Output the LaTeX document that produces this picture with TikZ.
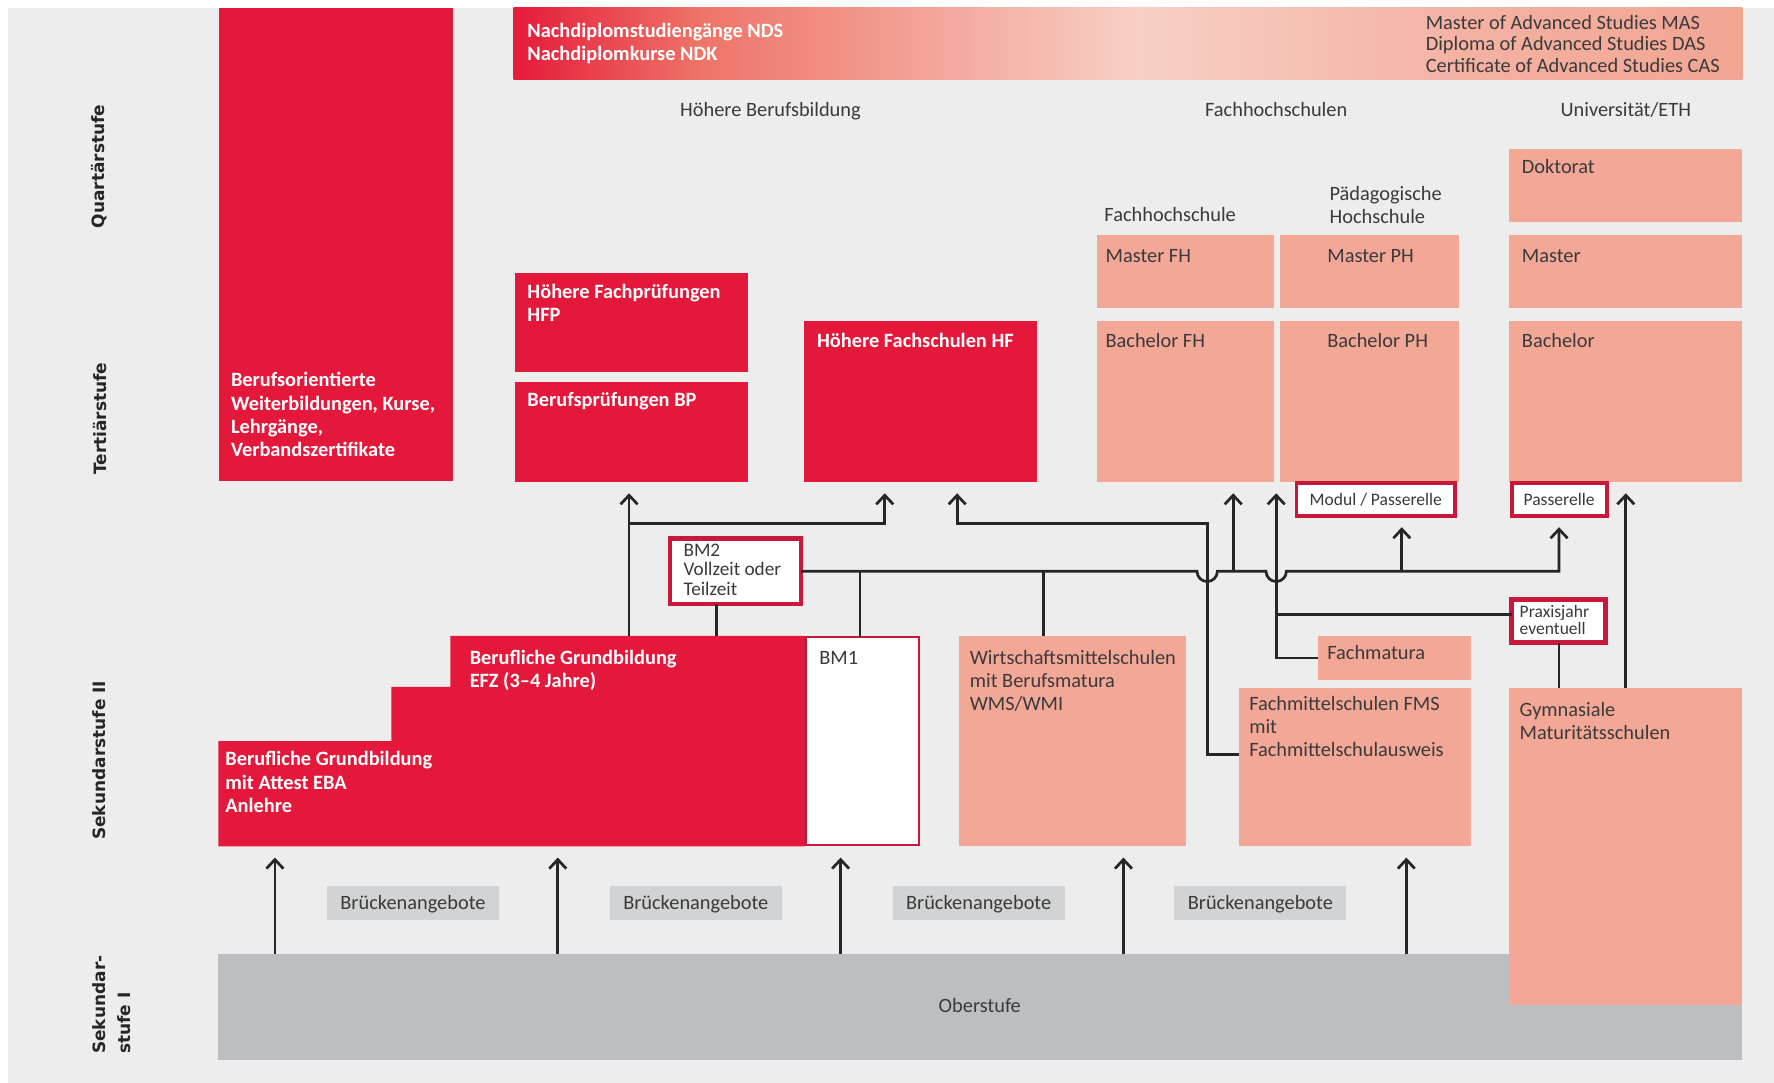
\documentclass[tikz,border=0pt]{standalone}
\usepackage{fontspec}
\setmainfont{Carlito}
\newfontfamily\stufefont{DejaVu Sans}
\usetikzlibrary{arrows.meta,fit}

\definecolor{bsred}{HTML}{E4183A}
\definecolor{bsframe}{HTML}{C8193C}
\definecolor{bssalmon}{HTML}{F3A796}
\definecolor{bsbg}{HTML}{EDEDED}
\definecolor{bsgray}{HTML}{BDBEC1}
\definecolor{bsbridge}{HTML}{D2D3D4}
\definecolor{bstext}{HTML}{3A3A3A}
\definecolor{bsline}{HTML}{262626}
% colours of the top bar
\definecolor{barA}{HTML}{E51B3A}
\definecolor{barB}{HTML}{EE7468}
\definecolor{barC}{HTML}{F8D0C5}
\definecolor{barD}{HTML}{F4B1A2}
\definecolor{barE}{HTML}{F2A593}
\pgfdeclarehorizontalshading{ndsshade}{100bp}{color(0bp)=(barA); color(25bp)=(barA);
    color(32.6bp)=(barB); color(50.4bp)=(barC); color(64bp)=(barD);
    color(75bp)=(barE); color(100bp)=(barE)}

\begin{document}
\begin{tikzpicture}[x=1pt,y=-1pt,
    area/.style={inner sep=0pt, outer sep=0pt},
    redbox/.style={area, fill=bsred},
    pinkbox/.style={area, fill=bssalmon},
    framebox/.style={area, fill=white, draw=bsframe, line width=#1},
    txt/.style={inner sep=0pt, anchor=base west, align=left, text=bstext,
        font=\fontsize{18}{20.5}\selectfont},
    wtxt/.style={txt, text=white, font=\fontsize{18}{20.5}\selectfont\bfseries},
    head/.style={txt, anchor=base},
    small/.style={text=bstext, font=\fontsize{15.5}{15}\selectfont},
    stufe/.style={rotate=90, align=left, inner sep=0pt, text=black!85,
        font=\stufefont\fontsize{15}{22}\selectfont\bfseries},
    bruecke/.style={area, fill=bsbridge, minimum width=152pt, minimum height=30pt,
        text height=15pt, text depth=3pt, text=bstext, font=\fontsize{18}{20.5}\selectfont},
    ln/.style={line width=2.4pt, draw=bsline},
    arr/.style={ln, -{Straight Barb[length=8pt,width=15pt]}, shorten >=10pt}]

    % page and background
    \useasboundingbox (0,0) rectangle (1568,957);
    \fill[white] (0,0) rectangle (1568,957);
    \fill[bsbg] (7,7) rectangle (1568,957);

    % levels
    \node[stufe] (quart) at (88,147) {Quartärstufe};
    \node[stufe] (tert) at (88,370) {Tertiärstufe};
    \node[stufe] (sek2) at (88,672) {Sekundarstufe II};
    \node[stufe] (sek1) at (99,888) {Sekundar-\\stufe I};

    % Nachdiplom bar (base anchor = last line)
    \shade[shading=ndsshade] (454,7) rectangle (1540,70);
    \node[wtxt] (nds) at (466,53.5) {Nachdiplomstudiengänge NDS\\Nachdiplomkurse NDK};
    \node[txt, font=\fontsize{18}{19}\selectfont] (mas) at (1260,64)
        {Master of Advanced Studies MAS\\Diploma of Advanced Studies DAS\\Certificate of Advanced Studies CAS};

    \node[head] (hbb) at (681,103) {Höhere Berufsbildung};
    \node[head] (fhs) at (1128,103) {Fachhochschulen};
    \node[head] (uni) at (1437,103) {Universität/ETH};

    % tertiary
    \node[redbox, fit={(194,7) (400,425)}] (bwb) {};
    \node[wtxt] (bwb-t) at (204,403.5) {Berufsorientierte\\Weiterbildungen, Kurse,\\Lehrgänge,\\Verbandszertifikate};
    \node[redbox, fit={(455,241) (661,329)}] (hfp) {};
    \node[wtxt] (hfp-t) at (466,284.5) {Höhere Fachprüfungen\\HFP};
    \node[redbox, fit={(455,338) (661,426)}] (bp) {};
    \node[wtxt] (bp-t) at (466,359) {Berufsprüfungen BP};
    \node[redbox, fit={(711,284) (917,426)}] (hf) {};
    \node[wtxt] (hf-t) at (722,307) {Höhere Fachschulen HF};

    \node[txt] (fh-h) at (976,196) {Fachhochschule};
    \node[txt] (ph-h) at (1175,197.5) {Pädagogische\\Hochschule};
    \node[pinkbox, fit={(970,208) (1126,272)}] (masterfh) {};
    \node[txt] (masterfh-t) at (977,232) {Master FH};
    \node[pinkbox, fit={(1131,208) (1290,272)}] (masterph) {};
    \node[txt] (masterph-t) at (1173,232) {Master PH};
    \node[pinkbox, fit={(970,284) (1126,426)}] (bachfh) {};
    \node[txt] (bachfh-t) at (977,307) {Bachelor FH};
    \node[pinkbox, fit={(1131,284) (1290,426)}] (bachph) {};
    \node[txt] (bachph-t) at (1173,307) {Bachelor PH};
    \node[pinkbox, fit={(1334,132) (1540,196)}] (doktor) {};
    \node[txt] (doktor-t) at (1345,153) {Doktorat};
    \node[pinkbox, fit={(1334,208) (1540,272)}] (masteruni) {};
    \node[txt] (masteruni-t) at (1345,232) {Master};
    \node[pinkbox, fit={(1334,284) (1540,426)}] (bachuni) {};
    \node[txt] (bachuni-t) at (1345,307) {Bachelor};

    \node[framebox=3pt, fit={(1146,427) (1286,456)}] (modul) {};
    \node[txt, small, anchor=base] (modul-t) at (1216,446.5) {Modul / Passerelle};
    \node[framebox=3.5pt, fit={(1336,427) (1420,456)}] (passerelle) {};
    \node[txt, small, anchor=base] (passerelle-t) at (1378,446.5) {Passerelle};

    % secondary II
    \fill[bsred] (193,748) -- (193,655) -- (346,655) -- (346,607) -- (398,607)
        -- (398,562) -- (711,562) -- (711,748) -- cycle;
    \node[area, fit={(193,655) (711,748)}] (eba) {};
    \node[area, fit={(398,562) (711,748)}] (efz) {};
    \node[wtxt] (efz-t) at (415,607.5) {Berufliche Grundbildung\\EFZ (3--4 Jahre)};
    \node[wtxt] (eba-t) at (199,718) {Berufliche Grundbildung\\mit Attest EBA\\Anlehre};
    \node[framebox=2pt, fit={(712,563) (812,747)}] (bm1) {};
    \node[txt] (bm1-t) at (724,587) {BM1};
    \node[framebox=4pt, fit={(592,476) (708,534)}] (bm2) {};
    \node[txt, font=\fontsize{17}{17}\selectfont] (bm2-t) at (604,526) {BM2\\Vollzeit oder\\Teilzeit};

    \node[pinkbox, fit={(848,562) (1048,748)}] (wms) {};
    \node[txt] (wms-t) at (857,628) {Wirtschaftsmittelschulen\\mit Berufsmatura\\WMS/WMI};
    \node[pinkbox, fit={(1165,562) (1300,601)}] (fachmatura) {};
    \node[txt] (fachmatura-t) at (1173,583) {Fachmatura};
    \node[pinkbox, fit={(1095,608) (1300,748)}] (fms) {};
    \node[txt] (fms-t) at (1104,669) {Fachmittelschulen FMS\\mit\\Fachmittelschulausweis};
    \node[framebox=4pt, fit={(1336,530) (1419,568)}] (praxis) {};
    \node[txt, small, anchor=base west] (praxis-t) at (1343,561) {Praxisjahr\\eventuell};

    % secondary I
    \node[area, fill=bsgray, fit={(193,843) (1540,937)}] (ober) {};
    \node[txt, anchor=base] (ober-t) at (866,895) {Oberstufe};
    \node[pinkbox, fit={(1334,608) (1540,888)}] (gym) {};
    \node[txt] (gym-t) at (1343,653.5) {Gymnasiale\\Maturitätsschulen};

    \foreach \x [count=\i] in {365,615,865,1114}
        \node[bruecke] (br\i) at (\x,798) {Brückenangebote};
    \foreach \x in {243,493,743,993,1243}
        \draw[arr] (\x,0 |- ober.north) -- (\x,0 |- eba.south);

    % paths upwards
    \draw[arr] (556,0 |- efz.north) -- (556,0 |- bp.south);
    \draw[arr] (556,463) -| (782,0 |- hf.south);
    \draw[ln] (633,0 |- bm2.south) -- (633,0 |- efz.north);
    \draw[ln] (760,0 |- bm1.north) -- (760,505);
    \draw[ln] (922,0 |- wms.north) -- (922,505);
    \draw[arr] (bm2.east |- 0,505) -- (1058,505) arc[start angle=180, end angle=360, radius=9pt]
        -- (1119,505) arc[start angle=180, end angle=360, radius=9pt]
        -- (passerelle.south |- 0,505) -- (passerelle.south);
    \draw[arr] (1090,505) -- (1090,0 |- bachfh.south);
    \draw[arr] (1239,505) -- (1239,0 |- modul.south);
    \draw[arr] (fms.west |- 0,667) -| (1067,463) -| (846,0 |- hf.south);
    \draw[arr] (fachmatura.west) -| (1128,0 |- bachph.south);
    \draw[ln] (praxis.west |- 0,543) -- (1128,543);
    \draw[ln] (1378,0 |- praxis.south) -- (1378,0 |- gym.north);
    \draw[arr] (1437,0 |- gym.north) -- (1437,0 |- bachuni.south);
\end{tikzpicture}
\end{document}
